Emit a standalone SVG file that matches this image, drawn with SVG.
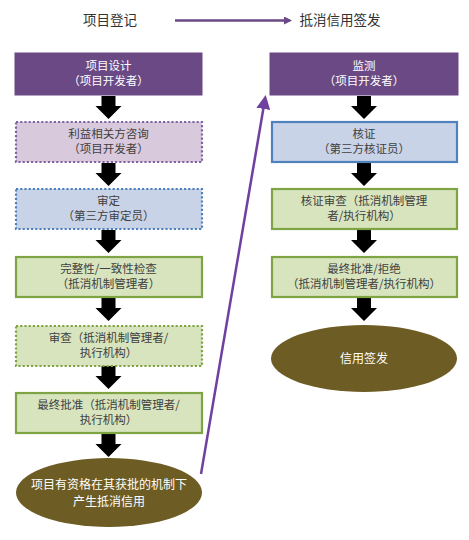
<svg xmlns="http://www.w3.org/2000/svg" width="469" height="540" viewBox="0 0 469 540">
<style>
text{font-family:"Noto Sans CJK SC","Noto Sans",sans-serif;font-size:11.5px;text-anchor:middle;fill:#404040}
.w{fill:#ffffff}
.e{font-size:12px}
.hd{font-size:13.5px;fill:#333333}
.pur{fill:#6a4984;stroke:#6a4984;stroke-width:1}
.pd{fill:#d8c9dc;stroke:#8064a2;stroke-width:2.2;stroke-dasharray:2.2 2}
.bd{fill:#c9d3e7;stroke:#4f81bd;stroke-width:2.2;stroke-dasharray:2.2 2}
.bs{fill:#c9d3e7;stroke:#4f81bd;stroke-width:2.2}
.gs{fill:#d8e4bd;stroke:#7ea443;stroke-width:2.2}
.gd{fill:#d8e4bd;stroke:#7ea443;stroke-width:2.2;stroke-dasharray:2.2 2}
.ol{fill:#6d5c24}
.dn{fill:#000000}
</style>
<defs>
<marker id="ah" markerWidth="8" markerHeight="8" refX="6" refY="4" orient="auto" markerUnits="userSpaceOnUse" viewBox="0 0 8 8"><path d="M0,0 L8,4 L0,8 z" fill="#6a4984"/></marker>
<marker id="ah2" markerWidth="14" markerHeight="14" refX="10" refY="7" orient="auto" markerUnits="userSpaceOnUse" viewBox="0 0 14 14"><path d="M0,0 L14,7 L0,14 z" fill="#7040a0"/></marker>
<path id="darr" d="M-7,0 H7 V10 H13 L0,23 L-13,10 H-7 Z"/>
</defs>
<g id="header">
<text class="hd" x="110" y="25">项目登记</text>
<text class="hd" x="340" y="25">抵消信用签发</text>
</g>
<g id="connectors">
<line x1="175" y1="20.5" x2="290" y2="20.5" stroke="#6a4984" stroke-width="2.5" marker-end="url(#ah)"/>
<line x1="201" y1="474" x2="265" y2="99" stroke="#7040a0" stroke-width="2.5" marker-end="url(#ah2)"/>
<use href="#darr" class="dn" x="108.5" y="96"/>
<use href="#darr" class="dn" x="108.5" y="163"/>
<use href="#darr" class="dn" x="108.5" y="230"/>
<use href="#darr" class="dn" x="108.5" y="298"/>
<use href="#darr" class="dn" x="108.5" y="366"/>
<use href="#darr" class="dn" x="108.5" y="434"/>
<use href="#darr" class="dn" x="364" y="96"/>
<use href="#darr" class="dn" x="364" y="163"/>
<use href="#darr" class="dn" x="364" y="230"/>
<use href="#darr" class="dn" x="364" y="298"/>
</g>
<g id="n1">
<rect class="pur" x="15" y="53" width="187" height="42"/>
<text class="w" x="108.5" y="70">项目设计</text>
<text class="w" x="108.5" y="85">（项目开发者）</text>
</g>
<g id="n2">
<rect class="pd" x="16" y="122" width="186" height="40"/>
<text x="108.5" y="138">利益相关方咨询</text>
<text x="108.5" y="153">（项目开发者）</text>
</g>
<g id="n3">
<rect class="bd" x="16" y="189" width="186" height="40"/>
<text x="108.5" y="205">审定</text>
<text x="108.5" y="220">（第三方审定员）</text>
</g>
<g id="n4">
<rect class="gs" x="16" y="257" width="186" height="40"/>
<text x="108.5" y="273">完整性/一致性检查</text>
<text x="108.5" y="288">（抵消机制管理者）</text>
</g>
<g id="n5">
<rect class="gd" x="16" y="326" width="186" height="40"/>
<text x="108.5" y="342">审查（抵消机制管理者/</text>
<text x="108.5" y="357">执行机构）</text>
</g>
<g id="n6">
<rect class="gs" x="16" y="393" width="186" height="40"/>
<text x="108.5" y="409">最终批准（抵消机制管理者/</text>
<text x="108.5" y="424">执行机构）</text>
</g>
<g id="n7">
<ellipse class="ol" cx="109" cy="492.5" rx="93" ry="34.5"/>
<text class="w e" x="109" y="489">项目有资格在其获批的机制下</text>
<text class="w e" x="109" y="506">产生抵消信用</text>
</g>
<g id="m1">
<rect class="pur" x="270" y="53" width="188" height="42"/>
<text class="w" x="364" y="70">监测</text>
<text class="w" x="364" y="85">（项目开发者）</text>
</g>
<g id="m2">
<rect class="bs" x="272" y="122" width="185" height="40"/>
<text x="364" y="138">核证</text>
<text x="364" y="153">（第三方核证员）</text>
</g>
<g id="m3">
<rect class="gs" x="272" y="189" width="185" height="40"/>
<text x="364" y="205">核证审查（抵消机制管理</text>
<text x="364" y="220">者/执行机构）</text>
</g>
<g id="m4">
<rect class="gs" x="272" y="257" width="185" height="40"/>
<text x="364" y="273">最终批准/拒绝</text>
<text x="364" y="288">（抵消机制管理者/执行机构）</text>
</g>
<g id="m5">
<ellipse class="ol" cx="364" cy="358.5" rx="93" ry="33.5"/>
<text class="w e" x="364" y="362.5">信用签发</text>
</g>
</svg>
